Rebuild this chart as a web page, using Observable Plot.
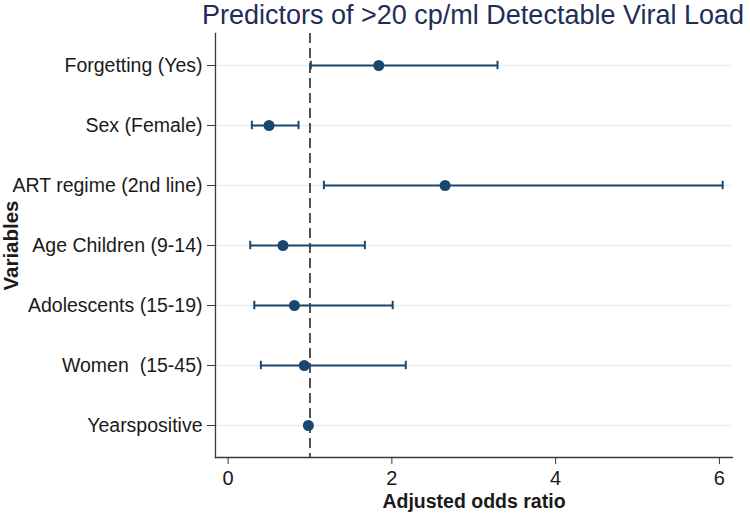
<!DOCTYPE html>
<html>
<head>
<meta charset="utf-8">
<script src="https://cdn.jsdelivr.net/npm/d3@7"></script>
<script src="https://cdn.jsdelivr.net/npm/@observablehq/plot@0.6"></script>
<style>
  html, body { margin: 0; padding: 0; background: #fff; }
  #wrap { position: relative; width: 750px; height: 513px; overflow: hidden; font-family: "Liberation Sans", Arial, sans-serif; }
  #title { position: absolute; left: 473px; top: 0px; transform: translateX(-50%); font-size: 27px; line-height: 30px; color: #1f2d5a; white-space: nowrap; }
  #chart svg text { white-space: pre; }
  #chart g[aria-label="x-axis label"] text { font-weight: bold; font-size: 19.5px; }
  #chart g[aria-label="y-axis label"] text { font-weight: bold; font-size: 20.5px; }
</style>
</head>
<body>
<div id="wrap">
  <div id="chart"></div>
  <div id="title">Predictors of &gt;20 cp/ml Detectable Viral Load</div>
</div>
<script>
const labels = ["Forgetting (Yes)", "Sex (Female)", "ART regime (2nd line)", "Age Children (9-14)", "Adolescents (15-19)", "Women  (15-45)", "Yearspositive"];
const oddsRatio = [1.84, 0.50, 2.65, 0.67, 0.81, 0.93, 0.98];
const lower = [1.01, 0.29, 1.17, 0.27, 0.32, 0.40, 0.96];
const upper = [3.29, 0.86, 6.04, 1.67, 2.01, 2.17, 1.00];
const xTicks = [0, 2, 4, 6];

const data = labels.map((label, i) => ({label, or: oddsRatio[i], lo: lower[i], hi: upper[i]}));
const navy = "#1a476f";
const axisColor = "#3a3a3a";
const capInset = 25.8;

const chart = Plot.plot({
  width: 750,
  height: 513,
  marginTop: 33,
  marginBottom: 56,
  marginLeft: 215,
  marginRight: 18,
  style: {fontFamily: '"Liberation Sans", Arial, sans-serif', background: "white", color: "#1a1a1a", overflow: "visible"},
  x: {domain: [-0.154, 6.16]},
  y: {type: "band", domain: labels, paddingInner: 0, paddingOuter: 0},
  marks: [
    Plot.gridY(labels, {stroke: "#e6eff1", strokeOpacity: 1, strokeWidth: 1.5}),
    Plot.ruleX([1], {stroke: "#1a1a1a", strokeWidth: 1.5, strokeDasharray: "10,5"}),
    Plot.frame({anchor: "left", stroke: axisColor, strokeWidth: 1.3}),
    Plot.frame({anchor: "bottom", stroke: axisColor, strokeWidth: 1.3}),
    Plot.axisX({ticks: xTicks, tickFormat: d3.format("d"), tickSize: 7, tickPadding: 6, fontSize: 20, stroke: axisColor, label: "Adjusted odds ratio", labelAnchor: "center", labelArrow: "none", labelOffset: 50}),
    Plot.axisY({tickSize: 8, tickPadding: 5, fontSize: 19.5, stroke: axisColor, label: "Variables", labelAnchor: "center", labelArrow: "none", labelOffset: 212}),
    Plot.ruleY(data, {y: "label", x1: "lo", x2: "hi", stroke: navy, strokeWidth: 2}),
    Plot.tickX(data, {x: "lo", y: "label", insetTop: capInset, insetBottom: capInset, stroke: navy, strokeWidth: 2}),
    Plot.tickX(data, {x: "hi", y: "label", insetTop: capInset, insetBottom: capInset, stroke: navy, strokeWidth: 2}),
    Plot.dot(data, {x: "or", y: "label", r: 5.5, fill: navy, stroke: "none"})
  ]
});
document.getElementById("chart").appendChild(chart);
</script>
</body>
</html>
